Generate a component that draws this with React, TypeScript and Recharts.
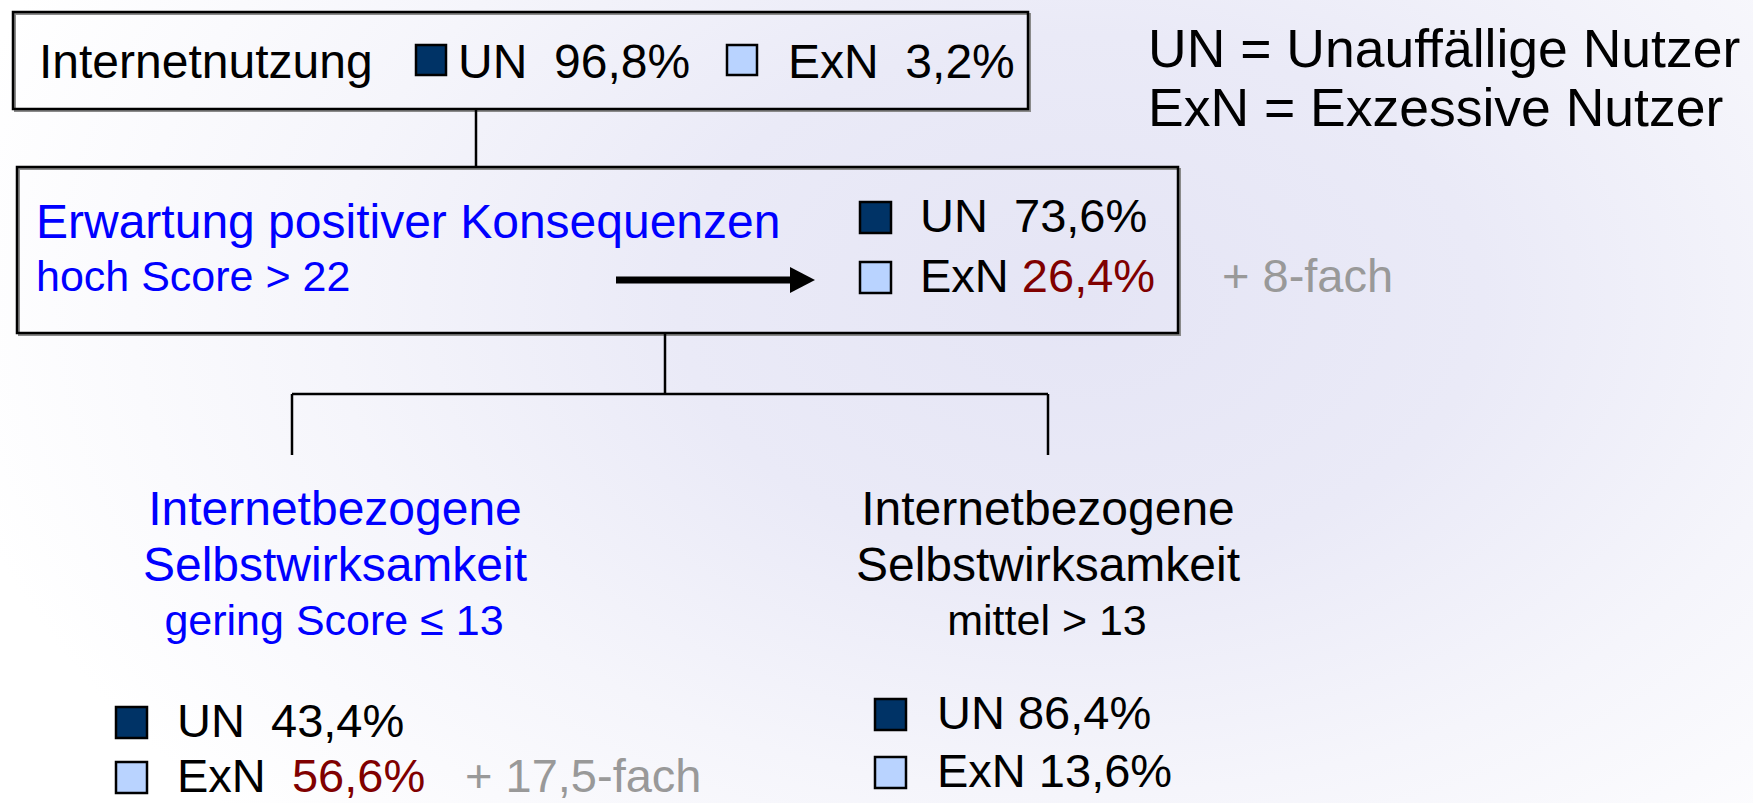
import React from 'react';
import { ComposedChart, XAxis, YAxis, ReferenceArea, ReferenceLine, Customized } from 'recharts';

// ---------- data ----------
const groups = ['UN', 'ExN'];
const groupNames = ['Unauffällige Nutzer', 'Exzessive Nutzer'];
const rootShares = [96.8, 3.2];
const expectShares = [73.6, 26.4];
const lowEffShares = [43.4, 56.6];
const midEffShares = [86.4, 13.6];
const riskFactors = ['+ 8-fach', '+ 17,5-fach'];
const rootTitle = ['Internetnutzung'];
const expectTitle = ['Erwartung positiver Konsequenzen', 'hoch Score > 22'];
const lowEffTitle = ['Internetbezogene', 'Selbstwirksamkeit', 'gering Score ≤ 13'];
const midEffTitle = ['Internetbezogene', 'Selbstwirksamkeit', 'mittel > 13'];

// ---------- styles / layout ----------
const W = 1753;
const H = 803;
const FONT = '"Liberation Sans", Arial, Helvetica, sans-serif';
const groupFill = ['#003366', '#b9d3ff'];
const BLUE = '#0000ff';
const RED = '#800000';
const GRAY = '#999999';
const BIG = 48;
const SMALL = 43;

const pct = (v: number) => v.toFixed(1).replace('.', ',') + '%';

type LegendLayout = {
  sq: { x: number; y: number; s: number }[];
  tx: { x: number; y: number }[];
  gap: string[];
  valueColor: string[];
  size: number;
};

const rootLegend: LegendLayout = {
  sq: [{ x: 416, y: 45, s: 30 }, { x: 727, y: 45, s: 30 }],
  tx: [{ x: 458, y: 78 }, { x: 788, y: 78 }],
  gap: ['  ', '  '],
  valueColor: ['#000', '#000'],
  size: 48,
};
const expectLegend: LegendLayout = {
  sq: [{ x: 860, y: 202, s: 31 }, { x: 860, y: 262, s: 31 }],
  tx: [{ x: 920, y: 232 }, { x: 920, y: 292 }],
  gap: ['  ', ' '],
  valueColor: ['#000', RED],
  size: 47,
};
const lowLegend: LegendLayout = {
  sq: [{ x: 116, y: 707, s: 31 }, { x: 116, y: 762, s: 31 }],
  tx: [{ x: 177, y: 737 }, { x: 177, y: 792 }],
  gap: ['  ', '  '],
  valueColor: ['#000', RED],
  size: 47,
};
const midLegend: LegendLayout = {
  sq: [{ x: 875, y: 699, s: 31 }, { x: 875, y: 757, s: 31 }],
  tx: [{ x: 937, y: 729 }, { x: 937, y: 787 }],
  gap: [' ', ' '],
  valueColor: ['#000', '#000'],
  size: 47,
};

const boxes = [
  { x1: 13, y1: 12, x2: 1028, y2: 109 },
  { x1: 17, y1: 167, x2: 1178, y2: 333 },
];

const connectors = [
  [{ x: 476, y: 109 }, { x: 476, y: 167 }],
  [{ x: 665, y: 333 }, { x: 665, y: 394 }],
  [{ x: 292, y: 394 }, { x: 1048, y: 394 }],
  [{ x: 292, y: 394 }, { x: 292, y: 455 }],
  [{ x: 1048, y: 394 }, { x: 1048, y: 455 }],
];

const arrow = { x1: 616, x2: 815, y: 280, head: 25, halfH: 13, width: 7 };

const Txt = ({ x, y, size, fill = '#000', anchor = 'start', children }: any) => (
  <text
    x={x}
    y={y}
    fontSize={size}
    fill={fill}
    textAnchor={anchor}
    fontFamily={FONT}
    style={{ whiteSpace: 'pre' }}
  >
    {children}
  </text>
);

const legendTexts = (lay: LegendLayout, shares: number[], key: string) =>
  groups.map((g, i) => (
    <Txt key={key + i} x={lay.tx[i].x} y={lay.tx[i].y} size={lay.size}>
      <tspan>{g + lay.gap[i]}</tspan>
      <tspan fill={lay.valueColor[i]}>{pct(shares[i])}</tspan>
    </Txt>
  ));

const Overlay = () => (
  <g>
    {/* arrow head */}
    <polygon
      points={`${arrow.x2 - arrow.head},${arrow.y - arrow.halfH} ${arrow.x2},${arrow.y} ${arrow.x2 - arrow.head},${arrow.y + arrow.halfH}`}
      fill="#000"
    />
    {/* definitions legend */}
    {groups.map((g, i) => (
      <Txt key={'def' + i} x={1148} y={67 + i * 59} size={53.5}>
        {g + ' = ' + groupNames[i]}
      </Txt>
    ))}
    {/* root */}
    <Txt x={39} y={78} size={BIG}>{rootTitle[0]}</Txt>
    {legendTexts(rootLegend, rootShares, 'root')}
    {/* expectation node */}
    <Txt x={36} y={238} size={BIG}>
      <tspan fill={BLUE}>{expectTitle[0]}</tspan>
    </Txt>
    <Txt x={36} y={291} size={SMALL} fill={BLUE}>{expectTitle[1]}</Txt>
    {legendTexts(expectLegend, expectShares, 'exp')}
    <Txt x={1222} y={292} size={47} fill={GRAY}>{riskFactors[0]}</Txt>
    {/* low efficacy */}
    <Txt x={335} y={525} size={BIG} fill={BLUE} anchor="middle">{lowEffTitle[0]}</Txt>
    <Txt x={335} y={581} size={BIG} fill={BLUE} anchor="middle">{lowEffTitle[1]}</Txt>
    <Txt x={334} y={635} size={SMALL} fill={BLUE} anchor="middle">{lowEffTitle[2]}</Txt>
    {legendTexts(lowLegend, lowEffShares, 'low')}
    <Txt x={465} y={792} size={47} fill={GRAY}>{riskFactors[1]}</Txt>
    {/* mid efficacy */}
    <Txt x={1048} y={525} size={BIG} anchor="middle">{midEffTitle[0]}</Txt>
    <Txt x={1048} y={581} size={BIG} anchor="middle">{midEffTitle[1]}</Txt>
    <Txt x={1047} y={635} size={SMALL} anchor="middle">{midEffTitle[2]}</Txt>
    {legendTexts(midLegend, midEffShares, 'mid')}
  </g>
);

const squares = (lay: LegendLayout, key: string) =>
  lay.sq.map((s, i) => (
    <ReferenceArea
      key={key + i}
      x1={s.x}
      x2={s.x + s.s}
      y1={s.y}
      y2={s.y + s.s}
      fill={groupFill[i]}
      fillOpacity={1}
      stroke="#000"
      strokeWidth={2.5}
      ifOverflow="visible"
    />
  ));

export default function App() {
  return (
    <div
      style={{
        position: 'absolute',
        left: 0,
        top: 0,
        width: W,
        height: H,
        background:
          'radial-gradient(ellipse 1150px 760px at 1080px 300px, #e5e5f5 0%, #eaeaf7 35%, #f5f5fb 65%, #ffffff 100%)',
      }}
    >
      <ComposedChart width={W} height={H} margin={{ top: 0, right: 0, bottom: 0, left: 0 }} data={[]}>
        <XAxis type="number" dataKey="x" domain={[0, W]} allowDataOverflow hide />
        <YAxis type="number" dataKey="y" domain={[0, H]} allowDataOverflow reversed hide />
        {boxes.map((b, i) => (
          <ReferenceArea
            key={'sh' + i}
            x1={b.x1 + 2}
            x2={b.x2 + 2}
            y1={b.y1 + 2}
            y2={b.y2 + 2}
            fill="none"
            stroke="#8a8a8a"
            strokeWidth={2}
            ifOverflow="visible"
          />
        ))}
        {boxes.map((b, i) => (
          <ReferenceArea
            key={'box' + i}
            x1={b.x1}
            x2={b.x2}
            y1={b.y1}
            y2={b.y2}
            fill="none"
            stroke="#000"
            strokeWidth={2.5}
            ifOverflow="visible"
          />
        ))}
        {connectors.map((seg, i) => (
          <ReferenceLine key={'c' + i} segment={seg} stroke="#000" strokeWidth={2.5} ifOverflow="visible" />
        ))}
        <ReferenceLine
          segment={[{ x: arrow.x1, y: arrow.y }, { x: arrow.x2 - arrow.head + 1, y: arrow.y }]}
          stroke="#000"
          strokeWidth={arrow.width}
          ifOverflow="visible"
        />
        {squares(rootLegend, 'rs')}
        {squares(expectLegend, 'es')}
        {squares(lowLegend, 'ls')}
        {squares(midLegend, 'ms')}
        <Customized component={Overlay} />
      </ComposedChart>
    </div>
  );
}
